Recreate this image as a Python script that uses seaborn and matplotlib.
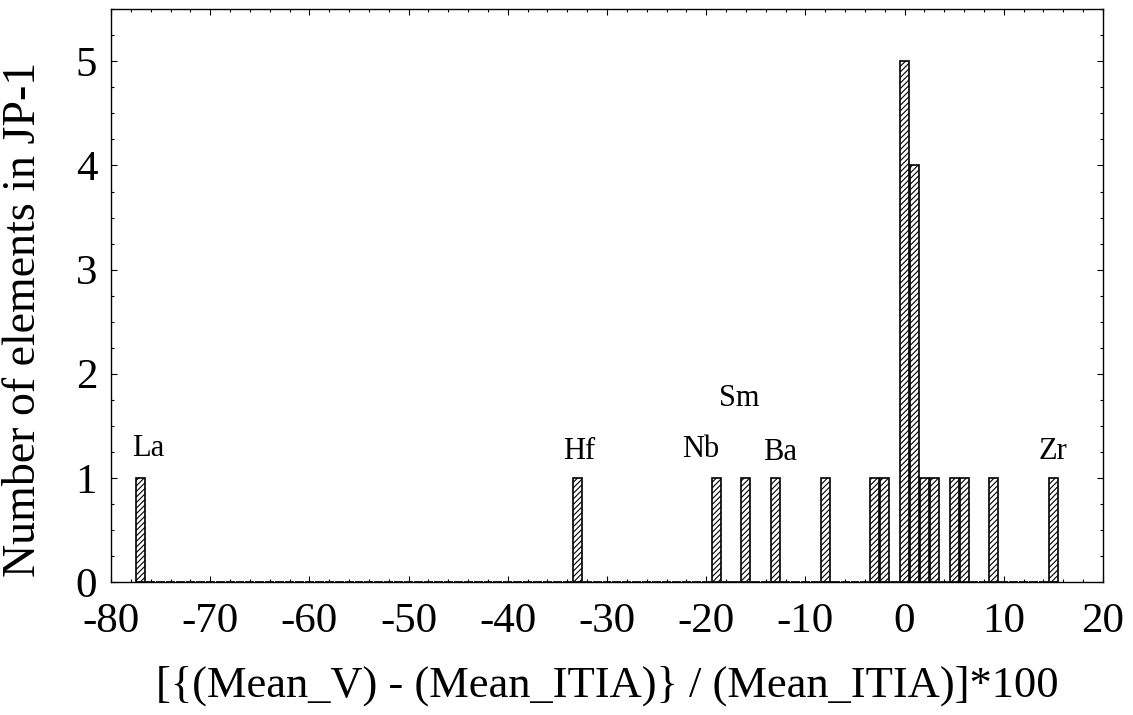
import numpy as np
import pandas as pd
import seaborn as sns
import matplotlib.pyplot as plt
from matplotlib.ticker import MultipleLocator

# Deviation bins (percent) and number of elements in each
dev_bins = [-77, -33, -19, -16, -13, -8, -3, -2, 0, 1, 2, 3, 5, 6, 9, 15]
n_elements = [1, 1, 1, 1, 1, 1, 1, 1, 5, 4, 1, 1, 1, 1, 1, 1]

# Element labels and where they sit
elem_names = ["La", "Hf", "Nb", "Sm", "Ba", "Zr"]
elem_x = [-76.2, -32.8, -20.5, -16.7, -12.6, 15.0]
elem_y = [1.21, 1.18, 1.20, 1.69, 1.17, 1.18]

df = pd.DataFrame({"dev": dev_bins, "count": n_elements})

sns.set_style("ticks")
plt.rcParams["font.family"] = ["Liberation Serif", "DejaVu Serif"]
plt.rcParams["axes.unicode_minus"] = False
plt.rcParams["hatch.linewidth"] = 0.8
plt.rcParams["text.color"] = "black"
plt.rcParams["axes.labelcolor"] = "black"
plt.rcParams["xtick.color"] = "black"
plt.rcParams["ytick.color"] = "black"

fig = plt.figure(figsize=(11.33, 7.15), dpi=100)
ax = fig.add_axes([0.098, 0.186, 0.8755, 0.801])

sns.histplot(data=df, x="dev", weights="count", discrete=True, shrink=0.9,
             color="white", edgecolor="black", linewidth=1.2, alpha=1, ax=ax)
for p in ax.patches:
    p.set_hatch("//////")

for name, x, y in zip(elem_names, elem_x, elem_y):
    ax.text(x, y, name, ha="center", va="baseline", fontsize=22, color="black")

ax.set_xlim(-80, 20)
ax.set_ylim(0, 5.5)
ax.xaxis.set_major_locator(MultipleLocator(10))
ax.xaxis.set_minor_locator(MultipleLocator(2))
ax.yaxis.set_major_locator(MultipleLocator(1))
ax.yaxis.set_minor_locator(MultipleLocator(0.25))
ax.tick_params(which="both", direction="in", top=True, right=True, width=0.8)
ax.tick_params(which="major", length=4, labelsize=31)
ax.tick_params(axis="x", which="major", pad=15)
ax.tick_params(axis="y", which="major", pad=10)
ax.tick_params(which="minor", length=2)
for s in ax.spines.values():
    s.set_linewidth(1.0)
    s.set_color("black")

ax.set_xlabel("[{(Mean_V) - (Mean_ITIA)} / (Mean_ITIA)]*100", fontsize=32)
ax.set_ylabel("Number of elements in JP-1", fontsize=33)
ax.xaxis.set_label_coords(0.5, -0.145)
ax.yaxis.set_label_coords(-0.067, 0.459)

fig.savefig("out.png", dpi=100)
